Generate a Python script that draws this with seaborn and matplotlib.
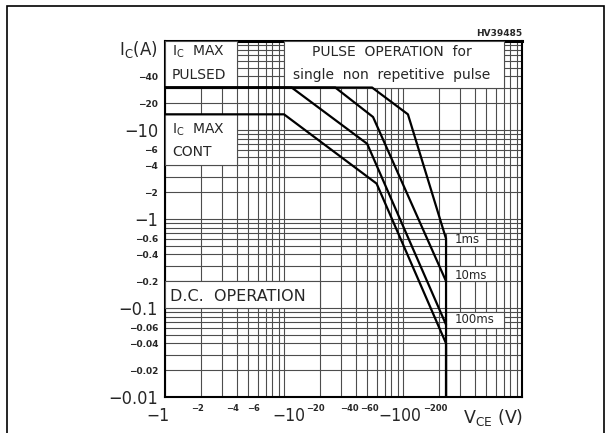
import numpy as np
import pandas as pd
import seaborn as sns
import matplotlib.pyplot as plt
from matplotlib.patches import Rectangle
from matplotlib.transforms import ScaledTranslation
from matplotlib.ticker import FixedLocator, LogLocator, NullFormatter

# safe operating area (V, A)
vce_dc = [-1, -10, -60, -230, -230]
ic_dc = [-15, -15, -2.5, -0.04, -0.01]
vce_100ms = [-1, -11.6, -50, -230]
ic_100ms = [-30, -30, -7, -0.065]
vce_10ms = [-1, -27, -56, -230]
ic_10ms = [-30, -30, -14, -0.2]
vce_1ms = [-1, -55, -110, -230, -230]
ic_1ms = [-30, -30, -15, -0.6, -0.01]

x_ticks = [1, 2, 4, 6, 10, 20, 40, 60, 100, 200]
x_big = [1, 10, 100]
y_ticks = [0.01, 0.02, 0.04, 0.06, 0.1, 0.2, 0.4, 0.6, 1, 2, 4, 6, 10, 20, 40]
y_big = [0.01, 0.1, 1, 10]

# horizontal nudge of the x tick labels (pixels), as placed on the original sheet
x_nudge = {1: -7, 2: -3, 4: -4, 6: -4, 10: 5, 20: -4, 40: -6, 60: -7, 100: -3, 200: -4}


def neg_label(v):
    return "\u2212" + f"{v:g}"


curves = {"DC": (vce_dc, ic_dc), "100ms": (vce_100ms, ic_100ms),
          "10ms": (vce_10ms, ic_10ms), "1ms": (vce_1ms, ic_1ms)}

sns.set_style("white")
plt.rcParams['font.family'] = ['DejaVu Sans']

fig = plt.figure(figsize=(6.15, 4.33), dpi=100)
ax = fig.add_axes([165 / 615, 1 - 397 / 433, 357 / 615, 356 / 433])
ax.set_xscale("log")
ax.set_yscale("log")

for name, (v, i) in curves.items():
    df = pd.DataFrame({"vce": -np.array(v, dtype=float), "ic": -np.array(i, dtype=float)})
    sns.lineplot(data=df, x="vce", y="ic", sort=False, estimator=None,
                 color="black", lw=1.6, ax=ax, zorder=5)

ax.set_xlim(1, 1000)
ax.set_ylim(0.01, 100)

ax.xaxis.set_major_locator(FixedLocator(x_ticks))
ax.set_xticklabels([neg_label(v) for v in x_ticks])
ax.yaxis.set_major_locator(FixedLocator(y_ticks))
ax.set_yticklabels([neg_label(v) for v in y_ticks])
for axis in (ax.xaxis, ax.yaxis):
    axis.set_minor_locator(LogLocator(base=10, subs=np.arange(1, 10), numticks=20))
    axis.set_minor_formatter(NullFormatter())

ax.tick_params(axis="both", which="both", length=0)
ax.tick_params(axis="x", pad=5)
ax.tick_params(axis="y", pad=5)
ax.set_xlabel("")
ax.set_ylabel("")

for lbl, v in zip(ax.get_xticklabels(), x_ticks):
    dy = 0
    if v in x_big:
        lbl.set_fontsize(12.5)
        lbl.set_fontstretch("condensed")
        dy = -3
    else:
        lbl.set_fontsize(6)
        lbl.set_fontweight("bold")
    lbl.set_transform(lbl.get_transform()
                      + ScaledTranslation(x_nudge[v] / 100, dy / 100, fig.dpi_scale_trans))
for lbl, v in zip(ax.get_yticklabels(), y_ticks):
    if v in y_big:
        lbl.set_fontsize(13)
        lbl.set_fontstretch("condensed")
    else:
        lbl.set_fontsize(6.5)
        lbl.set_fontweight("bold")

ax.grid(True, which="both", color="0.3", lw=0.8)
ax.set_axisbelow(True)
for side, sp in ax.spines.items():
    sp.set_color("black")
    sp.set_linewidth(1.5)
ax.spines["top"].set_linewidth(2.2)

# white label boxes laid on grid cells
boxes = [
    ((1, 30), (4, 100)),
    ((10, 30), (700, 100)),
    ((1, 4), (4, 15)),
    ((1, 0.1), (20, 0.2)),
    ((230, 0.5), (500, 0.7)),
    ((230, 0.2), (600, 0.3)),
    ((230, 0.06), (700, 0.09)),
]
for (x0, y0), (x1, y1) in boxes:
    ax.add_patch(Rectangle((x0, y0), x1 - x0, y1 - y0, facecolor="white",
                           edgecolor="0.3", lw=0.8, zorder=3))

txt = dict(fontsize=10, va="center", zorder=6)
ax.text(1.14, 75, r"I$_\mathregular{C}$  MAX", ha="left", **txt)
ax.text(1.14, 41, "PULSED", ha="left", **txt)
ax.text(81, 75, "PULSE  OPERATION  for", ha="center", **txt)
ax.text(81, 41, "single  non  repetitive  pulse", ha="center", **txt)
ax.text(1.14, 10, r"I$_\mathregular{C}$  MAX", ha="left", **txt)
ax.text(1.14, 5.6, "CONT", ha="left", **txt)
ax.text(1.1, 0.134, "D.C.  OPERATION", ha="left", fontsize=11.5, va="center", zorder=6)
ax.text(272, 0.59, "1ms", ha="left", fontsize=8.5, va="center", zorder=6)
ax.text(272, 0.23, "10ms", ha="left", fontsize=8.5, va="center", zorder=6)
ax.text(272, 0.074, "100ms", ha="left", fontsize=8.5, va="center", zorder=6)

fig.text(158 / 615, 1 - 50 / 433, r"I$_\mathregular{C}$(A)", ha="right", va="center", fontsize=12)
fig.text(523 / 615, 1 - 417 / 433, r"V$_\mathregular{CE}$ (V)", ha="right", va="center", fontsize=12.5)
fig.text(522 / 615, 1 - 33 / 433, "HV39485", ha="right", va="center", fontsize=6.5, fontweight="bold")

fig.add_artist(Rectangle((7 / 615, -0.1), 597 / 615, 1.1 - 6 / 433, transform=fig.transFigure,
                         fill=False, edgecolor="black", lw=1.2, clip_on=False))

plt.savefig("out.png", dpi=100)
plt.close("all")
